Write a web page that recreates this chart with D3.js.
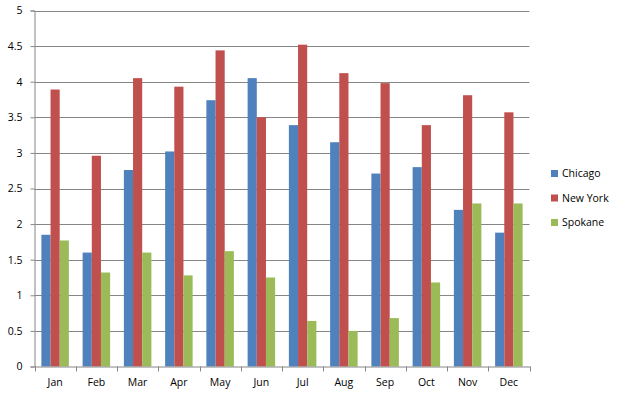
<!DOCTYPE html>
<html><head><meta charset="utf-8">
<script src="https://cdn.jsdelivr.net/npm/d3@7"></script>
<style>body{margin:0;background:#fff}svg{display:block}text{font-family:"Open Sans","Noto Sans",sans-serif;font-size:10.5px;fill:#000}</style>
</head><body><svg id="c" width="623" height="397"></svg>
<script>
const months = ["Jan","Feb","Mar","Apr","May","Jun","Jul","Aug","Sep","Oct","Nov","Dec"];
const seriesNames = ["Chicago","New York","Spokane"];
const chicago = [1.85,1.60,2.76,3.02,3.74,4.05,3.39,3.15,2.71,2.80,2.20,1.88];
const newYork = [3.89,2.96,4.05,3.93,4.44,3.50,4.52,4.12,3.98,3.39,3.81,3.57];
const spokane = [1.77,1.32,1.60,1.28,1.62,1.25,0.64,0.50,0.68,1.18,2.29,2.29];
const yTicks = [0,0.5,1,1.5,2,2.5,3,3.5,4,4.5,5];
const colors = ["#4F81BD","#C0504D","#9BBB59"];
const seriesValues = [chicago, newYork, spokane];

const svg = d3.select("#c");
const L = 34.5, R = 529.5, T = 10.5, B = 366.5;
const y = d3.scaleLinear().domain([0,5]).range([B,T]);
const x0 = d3.scaleBand().domain(months).range([L,R]).paddingInner(0.3333).paddingOuter(0.16667);
const x1 = d3.scaleBand().domain(seriesNames).range([0,x0.bandwidth()]);

// gridlines
svg.append("g").selectAll("line").data(yTicks.filter(d=>d>0)).join("line")
  .attr("x1",L).attr("x2",R).attr("y1",d=>Math.round(y(d))+0.5).attr("y2",d=>Math.round(y(d))+0.5)
  .attr("stroke","#868686").attr("stroke-width",1);

// bars
const g = svg.append("g");
seriesValues.forEach((vals,si)=>{
  g.append("g").selectAll("rect").data(vals).join("rect")
    .attr("x",(d,i)=>x0(months[i])+x1(seriesNames[si]))
    .attr("width",x1.bandwidth())
    .attr("y",d=>y(d))
    .attr("height",d=>B-y(d))
    .attr("fill",colors[si]);
});

// y axis
const ya = svg.append("g").attr("transform",`translate(${L},0)`)
  .call(d3.axisLeft(y).tickValues(yTicks).tickSize(4).tickPadding(8).tickFormat(d3.format("")));
ya.select(".domain").attr("stroke","#868686");
ya.selectAll(".tick line").attr("stroke","#868686");
ya.selectAll("text").attr("font-size","10.5px").attr("fill","#000").style("font-family",'"Open Sans","Noto Sans",sans-serif');

// x axis
const xa = svg.append("g").attr("transform",`translate(0,${B})`)
  .call(d3.axisBottom(x0).tickSize(0).tickPadding(12));
xa.select(".domain").attr("stroke","#868686");
xa.selectAll("text").attr("font-size","10.5px").attr("fill","#000").style("font-family",'"Open Sans","Noto Sans",sans-serif');
const step = (R-L)/months.length;
svg.append("g").selectAll("line").data(d3.range(months.length+1)).join("line")
  .attr("x1",d=>Math.round(L+d*step)+0.5).attr("x2",d=>Math.round(L+d*step)+0.5)
  .attr("y1",B).attr("y2",B+5).attr("stroke","#868686");

// legend
const lg = svg.append("g").attr("transform","translate(551,170)");
seriesNames.forEach((n,i)=>{
  lg.append("rect").attr("x",0).attr("y",i*24.5).attr("width",7).attr("height",7).attr("fill",colors[i]);
  lg.append("text").attr("x",11).attr("y",i*24.5+3.5).attr("dy","0.35em").text(n);
});
</script></body></html>
